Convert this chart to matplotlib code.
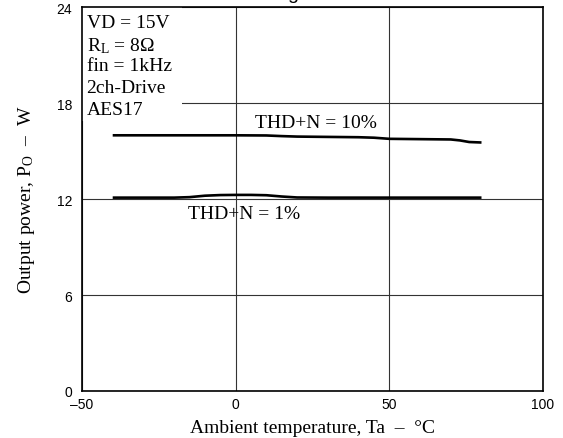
import matplotlib.pyplot as plt
from matplotlib.patches import Rectangle

plt.rcParams["mathtext.fontset"] = "custom"
plt.rcParams["mathtext.rm"] = "Liberation Serif"
plt.rcParams["mathtext.it"] = "Liberation Serif"

# ambient temperature (deg C) and output power (W)
temp_10 = [-40, -20, 0, 10, 15, 20, 30, 40, 45, 50, 60, 70, 73, 76, 80]
power_10 = [16.0, 16.0, 16.0, 15.99, 15.95, 15.92, 15.9, 15.88, 15.85, 15.78, 15.76, 15.74, 15.68, 15.58, 15.55]

temp_1 = [-40, -20, -15, -10, -5, 0, 5, 10, 15, 20, 30, 50, 80]
power_1 = [12.1, 12.1, 12.13, 12.22, 12.26, 12.27, 12.27, 12.25, 12.17, 12.11, 12.1, 12.1, 12.1]

x_ticks = [-50, 0, 50, 100]
y_ticks = [0, 6, 12, 18, 24]
conditions = ["VD = 15V", "R$_\\mathrm{L}$ = 8\u03a9", "fin = 1kHz", "2ch-Drive", "AES17"]

serif = "Liberation Serif"
sans = "Liberation Sans"

fig = plt.figure(figsize=(5.63, 4.39), dpi=100)
ax = fig.add_axes([0.1456, 0.1071, 0.8188, 0.8736])

ax.plot(temp_10, power_10, color="black", lw=1.9, solid_capstyle="butt", zorder=4)
ax.plot(temp_1, power_1, color="black", lw=1.9, solid_capstyle="butt", zorder=4)

ax.set_xlim(-50, 100)
ax.set_ylim(0, 24)
ax.set_xticks(x_ticks)
ax.set_yticks(y_ticks)
ax.set_xticklabels([f"{v}".replace("-", "\u2013") for v in x_ticks], fontfamily=sans, fontsize=10)
ax.set_yticklabels([str(v) for v in y_ticks], fontfamily=sans, fontsize=10)
ax.tick_params(axis="both", length=0)
ax.tick_params(axis="x", pad=4)
ax.tick_params(axis="y", pad=7)
ax.grid(True, color="#333333", lw=0.8, zorder=1)
for sp in ax.spines.values():
    sp.set_linewidth(1.2)

# white box behind the condition text
ax.add_patch(Rectangle((0, 0.704), 0.217, 0.296, transform=ax.transAxes,
                       facecolor="white", edgecolor="none", zorder=2))
for i, line in enumerate(conditions):
    ax.text(0.010, 0.983 - i * 0.0566, line, transform=ax.transAxes,
            fontfamily=serif, fontsize=14, va="top", ha="left", zorder=3)

ax.text(6.3, 16.52, "THD+N = 10%", fontfamily=serif, fontsize=14, zorder=3)
ax.text(-15.5, 10.83, "THD+N = 1%", fontfamily=serif, fontsize=14, zorder=3)

ax.set_xlabel("Ambient temperature, Ta  \u2013  \u00b0C", fontfamily=serif, fontsize=14, labelpad=6)
ax.set_ylabel("Output power, P$_\\mathrm{O}$  \u2013  W", fontfamily=serif, fontsize=14, labelpad=14)

# title cut off at the top of the page, only a descender is left
fig.text(0.519, 1.0 + 1.0 / 439, "g", fontfamily=sans, fontsize=14, ha="center", va="baseline")

fig.savefig("out.png", dpi=100)
